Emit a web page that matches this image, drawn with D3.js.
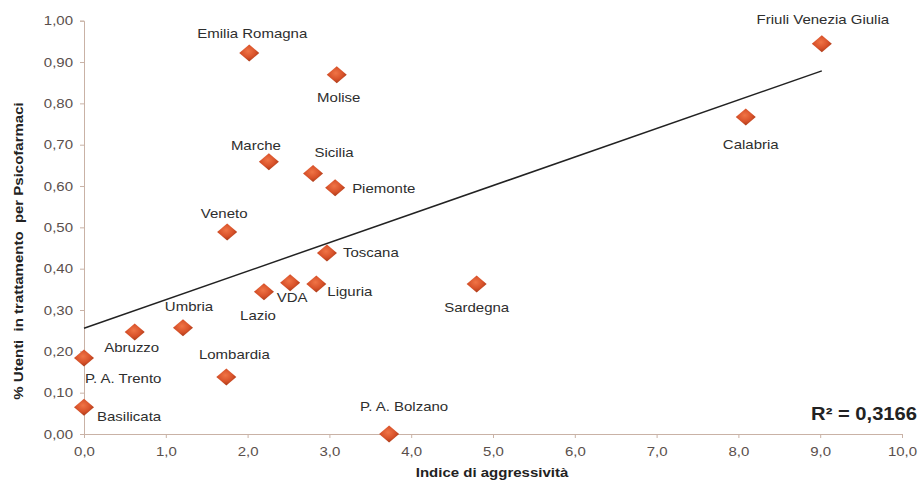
<!DOCTYPE html>
<html><head><meta charset="utf-8">
<script src="https://cdn.jsdelivr.net/npm/d3@7/dist/d3.min.js"></script>
<style>
body{margin:0;background:#fff;}
text{font-family:"Liberation Sans",Arial,sans-serif;}
</style></head>
<body><svg id="c" width="919" height="481"></svg>
<script>
const regions = ["Emilia Romagna","Molise","Friuli Venezia Giulia","Calabria","Marche","Sicilia","Piemonte","Veneto","Toscana","VDA","Liguria","Lazio","Sardegna","Umbria","Abruzzo","P. A. Trento","Lombardia","Basilicata","P. A. Bolzano"];
const aggressivita = [2.02,3.09,9.02,8.09,2.26,2.80,3.07,1.75,2.97,2.52,2.84,2.20,4.80,1.21,0.62,0.00,1.74,0.00,3.73];
const utenti = [0.922,0.869,0.944,0.767,0.659,0.630,0.596,0.489,0.438,0.366,0.363,0.344,0.363,0.257,0.247,0.184,0.138,0.065,0.000];
const xTicks = [0,1,2,3,4,5,6,7,8,9,10];
const yTicks = [0,0.1,0.2,0.3,0.4,0.5,0.6,0.7,0.8,0.9,1.0];
const r2Label = "R² = 0,3166";

// label layout (anchor, dx, dy relative to marker)
const labelLayout = [
 ["middle",3,-15],["middle",2,27],["middle",1,-20],["middle",5,32],["middle",-13,-12],
 ["middle",21,-17],["start",17,5],["middle",-3,-14],["start",16,4],["middle",2,19],
 ["start",11,12],["middle",-6,28],["middle",0,28],["middle",6,-17],["middle",-3,20],
 ["start",1,25],["middle",8,-18],["start",13,14],["middle",15,-23]
];

const SX = 1.2; // horizontal text stretch
const svg = d3.select("#c");
const x = d3.scaleLinear().domain([0,10]).range([84, 902]);
const y = d3.scaleLinear().domain([0,1]).range([434, 20.7]);

const defs = svg.append("defs");
const g = defs.append("radialGradient").attr("id","dg").attr("cx","45%").attr("cy","40%").attr("r","60%");
g.append("stop").attr("offset","0%").attr("stop-color","#f07446");
g.append("stop").attr("offset","60%").attr("stop-color","#d8522a");
g.append("stop").attr("offset","100%").attr("stop-color","#a93a18");

const axisColor = "#c9b2a6";
const fmt = v => d3.format(".2f")(v).replace(".",",");
const fmtx = v => d3.format(".1f")(v).replace(".",",");

function stretch(sel){
  sel.each(function(){
    const t = d3.select(this);
    const tx = +t.attr("x")||0, ty = +t.attr("y")||0;
    t.attr("x",0).attr("y",0).attr("transform",`translate(${tx},${ty}) scale(${SX},1)`);
  });
}

// y axis
const ya = svg.append("g").attr("transform",`translate(${x(0)},0)`)
  .call(d3.axisLeft(y).tickValues(yTicks).tickSize(4).tickPadding(7).tickFormat(fmt));
ya.select(".domain").attr("stroke",axisColor);
ya.selectAll(".tick line").attr("stroke",axisColor);
ya.selectAll(".tick text").attr("fill","#5a4f4c").attr("font-size","12.5px").style("font-family","Liberation Sans, Arial, sans-serif").call(stretch);

// x axis
const xa = svg.append("g").attr("transform",`translate(0,${y(0)})`)
  .call(d3.axisBottom(x).tickValues(xTicks).tickSize(4).tickPadding(9).tickFormat(fmtx));
xa.select(".domain").attr("stroke",axisColor);
xa.selectAll(".tick line").attr("stroke",axisColor);
xa.selectAll(".tick text").attr("fill","#5a4f4c").attr("font-size","12.5px").style("font-family","Liberation Sans, Arial, sans-serif").call(stretch);

// axis titles
svg.append("text").attr("transform",`translate(492,477) scale(${SX},1)`).attr("text-anchor","middle")
  .attr("font-size","12.5px").attr("font-weight","bold").attr("fill","#222").text("Indice di aggressività");
svg.append("text").attr("transform",`translate(23,251) rotate(-90) scale(${SX},1)`).attr("text-anchor","middle")
  .attr("font-size","12.5px").attr("font-weight","bold").attr("fill","#222").style("white-space","pre")
  .text("% Utenti  in trattamento  per Psicofarmaci");

// regression
const n = aggressivita.length;
const mx = d3.mean(aggressivita), my = d3.mean(utenti);
let sxy=0, sxx=0;
for(let i=0;i<n;i++){ sxy += (aggressivita[i]-mx)*(utenti[i]-my); sxx += (aggressivita[i]-mx)**2; }
const slope = sxy/sxx, icpt = my - slope*mx;
const xmax = d3.max(aggressivita);
svg.append("line").attr("x1",x(0)).attr("y1",y(icpt)).attr("x2",x(xmax)).attr("y2",y(icpt+slope*xmax))
  .attr("stroke","#222").attr("stroke-width",1.5);

// markers
const pts = regions.map((r,i)=>({r, x:aggressivita[i], y:utenti[i], L:labelLayout[i]}));
const dw = 10, dh = 8.5;
svg.append("g").selectAll("path").data(pts).join("path")
  .attr("d", d=>{const cx=x(d.x), cy=y(d.y); return `M${cx-dw},${cy}L${cx},${cy-dh}L${cx+dw},${cy}L${cx},${cy+dh}Z`;})
  .attr("fill","url(#dg)");

// labels
svg.append("g").selectAll("text").data(pts).join("text")
  .attr("transform",d=>`translate(${x(d.x)+d.L[1]},${y(d.y)+d.L[2]}) scale(${SX},1)`)
  .attr("text-anchor",d=>d.L[0]).attr("font-size","12.5px").attr("fill","#2e2e2e").text(d=>d.r);

// R2
svg.append("text").attr("transform","translate(917,420) scale(1.12,1)").attr("text-anchor","end")
  .attr("font-size","18px").attr("font-weight","bold").attr("fill","#222").text(r2Label);
</script></body></html>
